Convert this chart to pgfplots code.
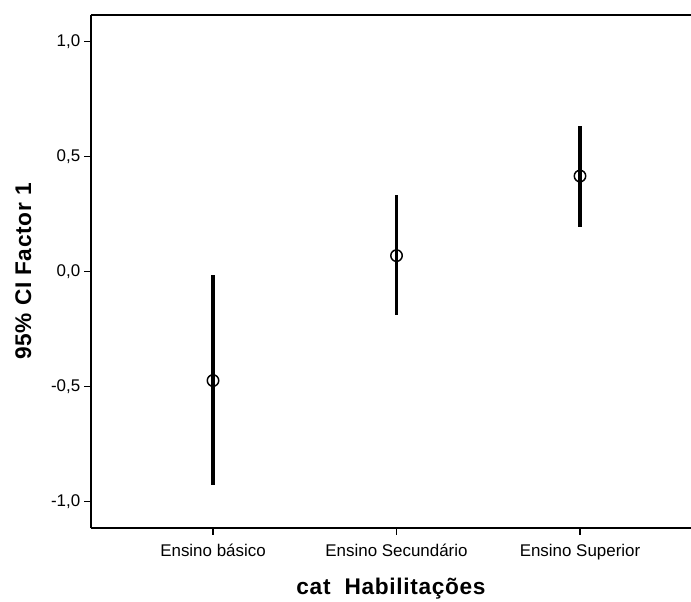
\documentclass[border=0pt]{standalone}
\usepackage{pgfplots}
\pgfplotsset{compat=1.18}
\usepackage{fontspec}
\setmainfont{Liberation Sans}
\newfontfamily\labfont[LetterSpace=3]{Liberation Sans}
\begin{document}
\begin{tikzpicture}[x=1pt,y=1pt]
\begin{axis}[
  scale only axis,
  width=450pt, height=384.75pt,
  xmin=0.335, xmax=3.605,
  ymin=-1.115, ymax=1.115,
  axis x line=box, axis y line=left,
  axis line style={-, line width=1.1pt},
  xtick={1,2,3},
  xticklabels={Ensino básico, Ensino Secundário, Ensino Superior},
  ytick={-1,-0.5,0,0.5,1},
  tick pos=left,
  tick align=outside,
  major tick length=5pt,
  tick style={line width=1.1pt, black},
  /pgf/number format/fixed,
  /pgf/number format/fixed zerofill,
  /pgf/number format/precision=1,
  /pgf/number format/use comma,
  /pgf/number format/assume math mode=true,
  ticklabel style={font=\fontsize{12.7pt}{14pt}\selectfont},
  xticklabel style={text height=9.5pt, text depth=3pt, yshift=-3.5pt},
  yticklabel style={xshift=0.5pt},
  xlabel={\labfont\bfseries cat\ \ Habilitações},
  ylabel={\labfont\bfseries 95\% CI Factor 1},
  label style={font=\fontsize{17pt}{19pt}\selectfont},
  xlabel style={yshift=-6pt},
  ylabel style={yshift=8pt},
  clip=false,
]
\addplot[only marks, mark=o, mark size=4.3pt, mark options={line width=1.1pt, black},
  error bars/.cd, y dir=both, y explicit,
  error mark=none, error bar style={line width=2.4pt, black}]
  coordinates {
  (1,-0.474) += (0,0.459) -= (0,0.453)
  (2,0.069) += (0,0.264) -= (0,0.257)
  (3,0.415) += (0,0.217) -= (0,0.220)
};
\end{axis}
\pgfresetboundingbox
\path[use as bounding box] ([shift={(-68.25pt,-54.75pt)}]current axis.south west) rectangle ([shift={(0pt,11.25pt)}]current axis.north east);
\end{tikzpicture}
\end{document}
